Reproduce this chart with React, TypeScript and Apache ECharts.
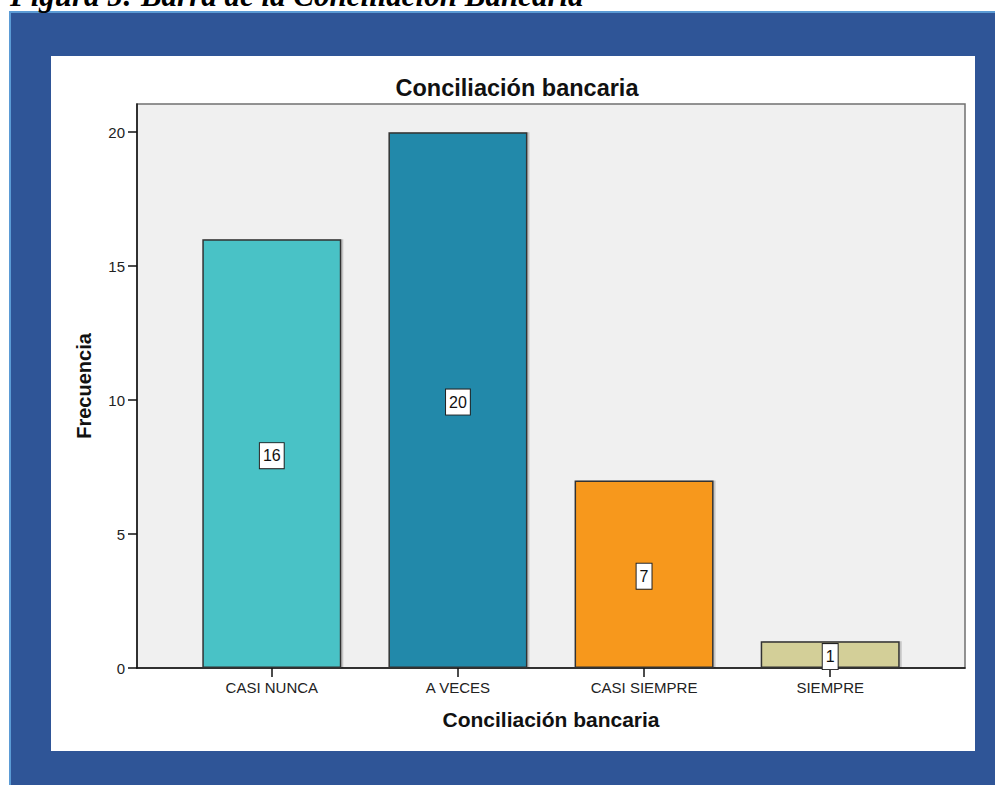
import React, { useEffect, useRef } from "react";
import * as echarts from "echarts";

// Frequencies of the "Conciliación bancaria" answers
const categories = ["CASI NUNCA", "A VECES", "CASI SIEMPRE", "SIEMPRE"];
const frequencies = [16, 20, 7, 1];
const barColors = ["#49c2c6", "#2389aa", "#f7981f", "#d3cf98"];
const yTicks = [0, 5, 10, 15, 20];

const chartTitle = "Conciliación bancaria";
const xTitle = "Conciliación bancaria";
const yTitle = "Frecuencia";
const caption = "Figura 5: Barra de la Conciliación Bancaria";

const SANS = "'Liberation Sans', Arial, sans-serif";
const SERIF = "'Liberation Serif', 'Times New Roman', serif";

export default function App() {
  const ref = useRef<HTMLDivElement>(null);

  useEffect(() => {
    if (!ref.current) return;
    const chart = echarts.init(ref.current, null, { renderer: "svg" });

    const catIdx = categories.map((_, i) => i);
    // half-band padding on each side of the category run
    const pad = 0.7242;

    chart.setOption({
      animation: false,
      backgroundColor: "#ffffff",
      graphic: [
        {
          type: "text",
          left: 10,
          top: -20,
          z: 0,
          style: {
            text: caption,
            font: `italic bold 31px ${SERIF}`,
            fill: "#000",
          },
        },
        {
          type: "rect",
          shape: { x: 9, y: 11, width: 986, height: 774 },
          style: { fill: "#5b9bd5" },
          z: -10,
        },
        {
          type: "rect",
          shape: { x: 11, y: 13, width: 984, height: 772 },
          style: { fill: "#2f5597" },
          z: -9,
        },
        {
          type: "rect",
          shape: { x: 51, y: 56, width: 924, height: 695 },
          style: { fill: "#ffffff" },
          z: -8,
        },
      ],
      title: {
        text: chartTitle,
        left: 512,
        top: 71,
        textAlign: "center",
        textStyle: {
          fontFamily: SANS,
          fontSize: 23.5,
          fontWeight: "bold",
          color: "#111",
        },
      },
      grid: {
        left: 137,
        top: 104,
        width: 828,
        height: 564,
        show: true,
        backgroundColor: "#f0f0f0",
        borderColor: "#707070",
        borderWidth: 1.5,
      },
      xAxis: {
        type: "value",
        min: -pad,
        max: categories.length - 1 + pad,
        name: xTitle,
        nameLocation: "middle",
        nameGap: 41,
        nameTextStyle: {
          fontFamily: SANS,
          fontSize: 21,
          fontWeight: "bold",
          color: "#111",
        },
        splitLine: { show: false },
        axisLine: { show: true, onZero: false, lineStyle: { color: "#111", width: 1.5 } },
        axisTick: {
          show: true,
          length: 9,
          customValues: catIdx,
          lineStyle: { color: "#111", width: 1.5 },
        },
        axisLabel: {
          customValues: catIdx,
          margin: 12,
          fontFamily: SANS,
          fontSize: 15,
          color: "#222",
          formatter: (v: number) => categories[Math.round(v)] ?? "",
        },
      },
      yAxis: {
        type: "value",
        min: 0,
        max: 21.05,
        name: yTitle,
        nameLocation: "middle",
        nameGap: 43,
        nameTextStyle: {
          fontFamily: SANS,
          fontSize: 20,
          fontWeight: "bold",
          color: "#111",
        },
        splitLine: { show: false },
        axisLine: { show: true, onZero: false, lineStyle: { color: "#111", width: 1.5 } },
        axisTick: {
          show: true,
          length: 9,
          customValues: yTicks,
          lineStyle: { color: "#111", width: 1.5 },
        },
        axisLabel: {
          customValues: yTicks,
          margin: 12,
          fontFamily: SANS,
          fontSize: 15,
          color: "#222",
        },
      },
      series: [
        {
          type: "bar",
          barWidth: 139,
          data: frequencies.map((v, i) => ({
            value: [i, v],
            itemStyle: { color: barColors[i] },
          })),
          itemStyle: {
            borderColor: "#333",
            borderWidth: 1.5,
            shadowColor: "rgba(0,0,0,0.18)",
            shadowOffsetX: 2,
            shadowOffsetY: 0,
            shadowBlur: 0,
          },
          label: {
            show: true,
            position: "inside",
            offset: [0, 2],
            formatter: (p: any) => String(p.value[1]),
            fontFamily: SANS,
            fontSize: 16,
            lineHeight: 18,
            color: "#111",
            backgroundColor: "#ffffff",
            borderColor: "#222",
            borderWidth: 1,
            padding: [4, 3, 3, 3],
          },
        },
      ],
    });

    return () => chart.dispose();
  }, []);

  return (
    <div
      ref={ref}
      style={{ position: "fixed", left: 0, top: 0, width: 995, height: 785 }}
    />
  );
}
